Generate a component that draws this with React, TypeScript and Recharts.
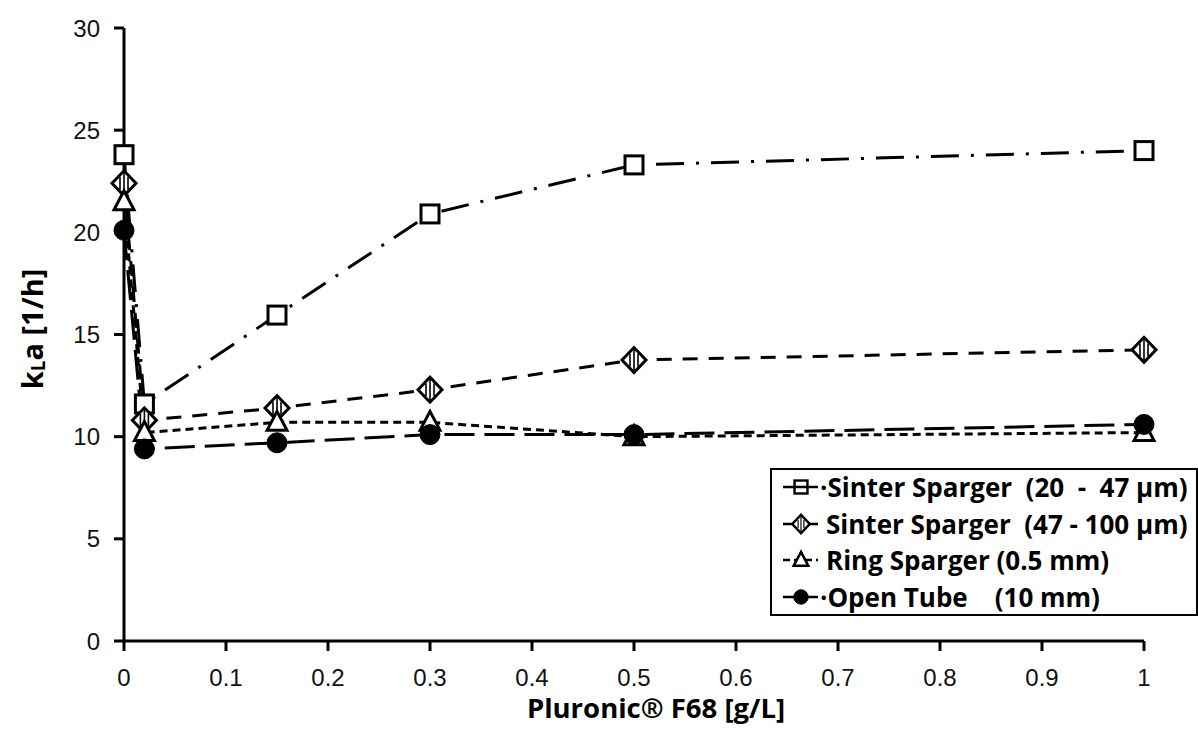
import React from 'react';
import { LineChart, Line, XAxis, YAxis, Legend } from 'recharts';

const concentrations = [0, 0.02, 0.15, 0.3, 0.5, 1];
const sinter20to47 = [23.8, 11.6, 15.95, 20.9, 23.3, 24.0];
const sinter47to100 = [22.4, 10.8, 11.4, 12.3, 13.75, 14.25];
const ringSparger = [21.5, 10.2, 10.7, 10.7, 10.0, 10.2];
const openTube = [20.1, 9.4, 9.7, 10.1, 10.1, 10.6];

const xTicks = [0, 0.1, 0.2, 0.3, 0.4, 0.5, 0.6, 0.7, 0.8, 0.9, 1];
const yTicks = [0, 5, 10, 15, 20, 25, 30];

const seriesNames = [
  'Sinter Sparger  (20  -  47 µm)',
  'Sinter Sparger  (47 - 100 µm)',
  'Ring Sparger (0.5 mm)',
  'Open Tube    (10 mm)',
];

const data = concentrations.map((c, i) => ({
  x: c,
  s1: sinter20to47[i],
  s2: sinter47to100[i],
  s3: ringSparger[i],
  s4: openTube[i],
}));

type Kind = 'square' | 'diamond' | 'triangle' | 'circle';

function Marker({ kind, cx, cy, scale = 1 }: { kind: Kind; cx: number; cy: number; scale?: number }) {
  const sw = scale < 1 ? 2.4 : 3;
  if (kind === 'square') {
    const s = 9 * scale;
    return <rect x={cx - s} y={cy - s} width={2 * s} height={2 * s} fill="#fff" stroke="#000" strokeWidth={sw} />;
  }
  if (kind === 'diamond') {
    const w = 12 * scale;
    const h = 12.5 * scale;
    const offs = [-4 * scale, 0, 4 * scale];
    return (
      <g>
        <path d={`M${cx - w},${cy} L${cx},${cy - h} L${cx + w},${cy} L${cx},${cy + h} Z`} fill="#fff" stroke="#000" strokeWidth={sw} />
        {offs.map((dx, i) => {
          const hl = h * (1 - Math.abs(dx) / w) - 2;
          return <line key={i} x1={cx + dx} x2={cx + dx} y1={cy - hl} y2={cy + hl} stroke="#000" strokeWidth={1.6 * scale} />;
        })}
      </g>
    );
  }
  if (kind === 'triangle') {
    const w = 10 * scale;
    const h = 10 * scale;
    return <path d={`M${cx - w},${cy + h * 0.8} L${cx},${cy - h * 1.1} L${cx + w},${cy + h * 0.8} Z`} fill="#fff" stroke="#000" strokeWidth={sw} />;
  }
  return <circle cx={cx} cy={cy} r={10 * scale} fill="#000" stroke="#000" strokeWidth={1} />;
}

const makeDot = (kind: Kind) => (props: any) => {
  const { cx, cy, index } = props;
  if (cx == null || cy == null) return <g key={`n-${kind}-${index}`} />;
  return <Marker key={`${kind}-${index}`} kind={kind} cx={cx} cy={cy} />;
};

const dashes = ['28 12 3 12', '15 11', '8 5', '30 10'];
const kinds: Kind[] = ['square', 'diamond', 'triangle', 'circle'];
const keys = ['s1', 's2', 's3', 's4'];
const legendDashes = [undefined, undefined, '7 4', undefined];
const legendDots = ['·', '', '', '·'];

function LegendContent() {
  return (
    <div
      style={{
        border: '2px solid #000',
        background: '#fff',
        padding: '0 0 0 8px',
        width: 428,
        height: 148,
        boxSizing: 'border-box',
      }}
    >
      {seriesNames.map((name, i) => (
        <div key={i} style={{ display: 'flex', alignItems: 'center', height: 36.5, marginTop: i === 0 ? -1 : 0 }}>
          <svg width={46} height={30} style={{ flex: 'none' }}>
            <Marker kind={kinds[i]} cx={21} cy={15} scale={0.72} />
            <line x1={3} x2={38} y1={15} y2={15} stroke="#000" strokeWidth={2.6} strokeDasharray={legendDashes[i]} />
            {kinds[i] === 'triangle' || kinds[i] === 'diamond' ? <Marker kind={kinds[i]} cx={21} cy={15} scale={0.72} /> : null}
          </svg>
          <span
            style={{
              fontFamily: '"Open Sans", Lato, sans-serif',
              fontWeight: 700,
              fontSize: 26,
              whiteSpace: 'pre',
              color: '#000',
              lineHeight: '30px',
              marginLeft: legendDots[i] ? -6 : 0,
            }}
          >
            {legendDots[i]}
            {name}
          </span>
        </div>
      ))}
    </div>
  );
}

const YLabel = () => {
  const cx = 31;
  const cy = 329;
  return (
    <text
      x={cx}
      y={cy}
      transform={`rotate(-90, ${cx}, ${cy})`}
      textAnchor="middle"
      dominantBaseline="central"
      style={{ fontFamily: '"Open Sans", Lato, sans-serif', fontWeight: 700, fontSize: 29, fill: '#000' }}
    >
      <tspan>k</tspan>
      <tspan fontSize={19} dy={7}>L</tspan>
      <tspan dy={-7}>a [1/h]</tspan>
    </text>
  );
};

const XLabel = () => (
  <text
    x={656}
    y={718}
    textAnchor="middle"
    style={{ fontFamily: '"Open Sans", Lato, sans-serif', fontWeight: 700, fontSize: 27.5, fill: '#000' }}
  >
    Pluronic® F68 [g/L]
  </text>
);

export default function App() {
  return (
    <div style={{ position: 'absolute', left: 0, top: 0, width: 1198, height: 733, background: '#fff' }}>
      <LineChart width={1198} height={733} data={data} margin={{ top: 28, right: 54, bottom: 32, left: 20 }}>
        <XAxis
          dataKey="x"
          type="number"
          domain={[0, 1]}
          ticks={xTicks}
          tickFormatter={(v: number) => String(Math.round(v * 10) / 10)}
          stroke="#000"
          strokeWidth={3}
          tickSize={10}
          tickMargin={18}
          height={60}
          tick={{ fill: '#111', fontSize: 24, fontFamily: '"Liberation Sans", Arial, sans-serif' }}
          label={<XLabel />}
        />
        <YAxis
          type="number"
          domain={[0, 30]}
          ticks={yTicks}
          stroke="#000"
          strokeWidth={3}
          tickSize={10}
          tickMargin={14}
          width={104}
          tick={{ fill: '#111', fontSize: 24, fontFamily: '"Liberation Sans", Arial, sans-serif' }}
          label={<YLabel />}
        />
        <Legend
          layout="horizontal"
          verticalAlign="middle"
          align="center"
          content={<LegendContent />}
          wrapperStyle={{ position: 'absolute', left: 770, top: 468, width: 428, height: 148 }}
        />
        {keys.map((k, i) => (
          <Line
            key={k}
            dataKey={k}
            name={seriesNames[i]}
            stroke="#000"
            strokeWidth={3}
            strokeDasharray={dashes[i]}
            dot={makeDot(kinds[i])}
            activeDot={false}
            isAnimationActive={false}
            legendType="none"
          />
        ))}
      </LineChart>
    </div>
  );
}
